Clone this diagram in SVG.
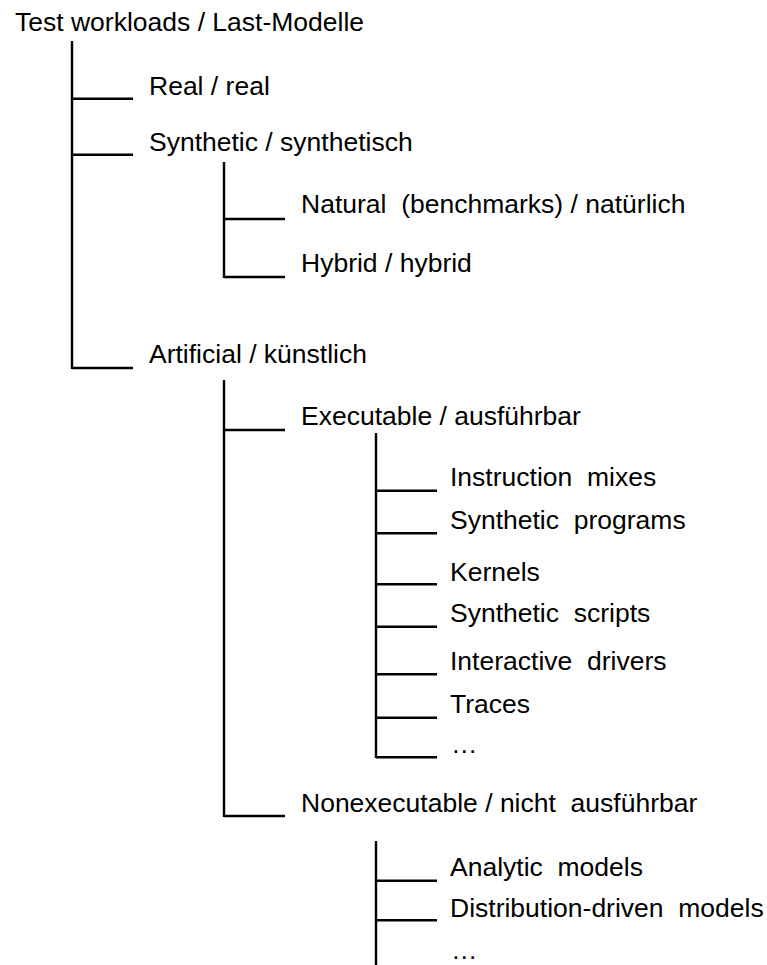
<svg xmlns="http://www.w3.org/2000/svg" width="767" height="965" viewBox="0 0 767 965" xml:space="preserve">
<style>
  text { font-family: "Liberation Sans", Arial, sans-serif; font-size: 26.5px; fill: #000; white-space: pre; }
  .c line { stroke: #000; stroke-width: 2.4; fill: none; }
</style>
<rect width="767" height="965" fill="#fff"/>
<g id="connectors" class="c">
  <line x1="72" y1="41" x2="72" y2="369"/>
  <line x1="72" y1="98.7" x2="133" y2="98.7"/>
  <line x1="72" y1="154.7" x2="133" y2="154.7"/>
  <line x1="72" y1="368" x2="133" y2="368"/>
  <line x1="224" y1="162" x2="224" y2="278"/>
  <line x1="224" y1="219" x2="285" y2="219"/>
  <line x1="224" y1="277" x2="285" y2="277"/>
  <line x1="224" y1="380" x2="224" y2="817"/>
  <line x1="224" y1="430" x2="285" y2="430"/>
  <line x1="224" y1="816" x2="285" y2="816"/>
  <line x1="376" y1="433" x2="376" y2="758"/>
  <line x1="376" y1="490.7" x2="437" y2="490.7"/>
  <line x1="376" y1="533.3" x2="437" y2="533.3"/>
  <line x1="376" y1="584.3" x2="437" y2="584.3"/>
  <line x1="376" y1="626.7" x2="437" y2="626.7"/>
  <line x1="376" y1="674.3" x2="437" y2="674.3"/>
  <line x1="376" y1="717.7" x2="437" y2="717.7"/>
  <line x1="376" y1="757.3" x2="437" y2="757.3"/>
  <line x1="376" y1="841" x2="376" y2="965"/>
  <line x1="376" y1="880.7" x2="437" y2="880.7"/>
  <line x1="376" y1="920.3" x2="437" y2="920.3"/>
</g>
<g id="root"><text x="15" y="31">Test workloads / Last-Modelle</text></g>
<g id="real"><text x="149" y="95">Real / real</text></g>
<g id="synthetic"><text x="149" y="150.7">Synthetic / synthetisch</text></g>
<g id="natural"><text x="301" y="213">Natural  (benchmarks) / natürlich</text></g>
<g id="hybrid"><text x="301" y="271.7">Hybrid / hybrid</text></g>
<g id="artificial"><text x="149" y="363">Artificial / künstlich</text></g>
<g id="executable"><text x="301" y="425">Executable / ausführbar</text></g>
<g id="instruction-mixes"><text x="450" y="486">Instruction  mixes</text></g>
<g id="synthetic-programs"><text x="450" y="529.3">Synthetic  programs</text></g>
<g id="kernels"><text x="450" y="580.7">Kernels</text></g>
<g id="synthetic-scripts"><text x="450" y="621.7">Synthetic  scripts</text></g>
<g id="interactive-drivers"><text x="450" y="670">Interactive  drivers</text></g>
<g id="traces"><text x="450" y="713.3">Traces</text></g>
<g id="exec-more"><text x="451" y="753">…</text></g>
<g id="nonexecutable"><text x="301" y="812">Nonexecutable / nicht  ausführbar</text></g>
<g id="analytic-models"><text x="450" y="876">Analytic  models</text></g>
<g id="distribution-models"><text x="450" y="916.7">Distribution-driven  models</text></g>
<g id="nonexec-more"><text x="451" y="959">…</text></g>
</svg>
